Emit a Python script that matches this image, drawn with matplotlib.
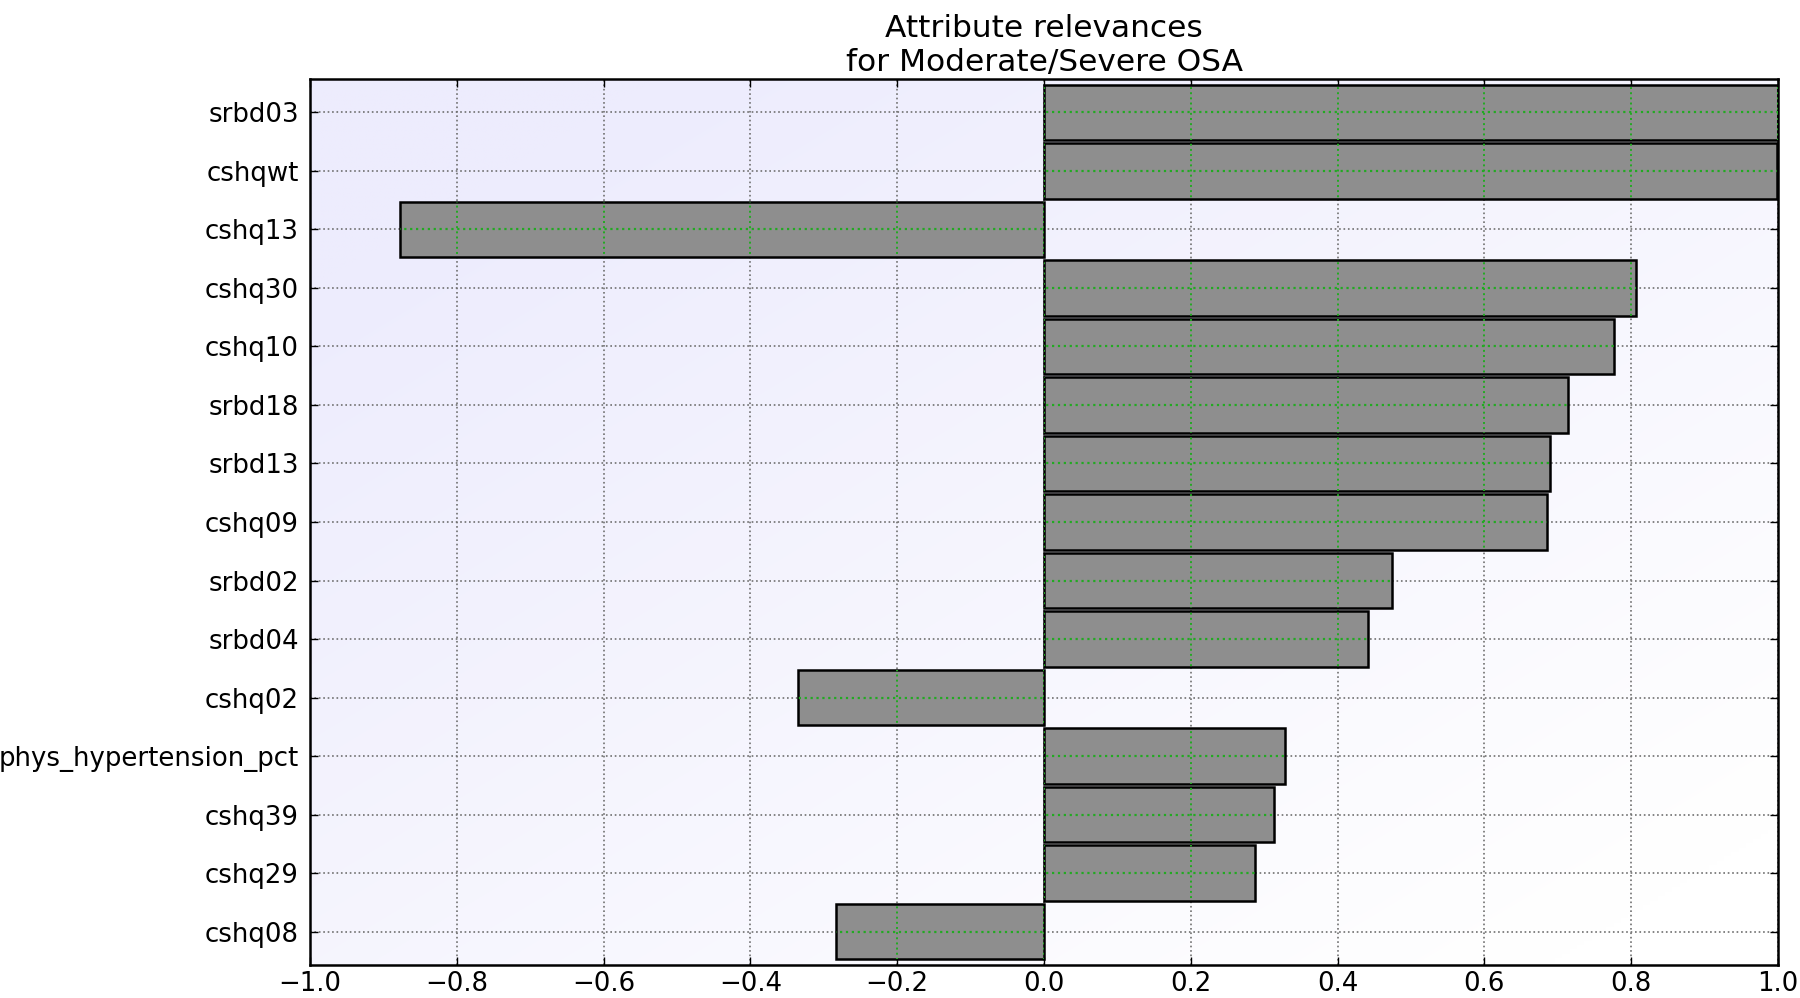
import numpy as np
import matplotlib
matplotlib.use("Agg")
import matplotlib.pyplot as plt
from matplotlib.path import Path

# attribute names, top to bottom
attributes = ['srbd03', 'cshqwt', 'cshq13', 'cshq30', 'cshq10', 'srbd18',
              'srbd13', 'cshq09', 'srbd02', 'srbd04', 'cshq02',
              'phys_hypertension_pct', 'cshq39', 'cshq29', 'cshq08']
# relevance values
relevances = [1.0, 0.998, -0.878, 0.806, 0.777, 0.714,
              0.690, 0.685, 0.474, 0.442, -0.335,
              0.328, 0.313, 0.287, -0.284]
x_ticks = [-1.0, -0.8, -0.6, -0.4, -0.2, 0.0, 0.2, 0.4, 0.6, 0.8, 1.0]

plt.rcParams['font.family'] = 'DejaVu Sans'

fig = plt.figure(figsize=(18, 9.98), dpi=100)
ax = fig.add_axes([310 / 1800, 1 - 965 / 998, 1468 / 1800, 886 / 998])

# lavender (top left) to white (bottom right) background
gx, gy = np.meshgrid(np.linspace(0, 1, 200), np.linspace(0, 1, 200))
t = np.clip((gx + gy) / 1.6 - 0.15, 0, 1)
top = np.array([237, 236, 253]) / 255.0
bot = np.array([255, 255, 255]) / 255.0
grad = top[None, None, :] * (1 - t[..., None]) + bot[None, None, :] * t[..., None]
ax.imshow(grad, extent=[0, 1, 0, 1], transform=ax.transAxes, aspect='auto',
          origin='upper', zorder=0, interpolation='bilinear')

y_pos = np.arange(len(attributes))
bars = ax.barh(y_pos, relevances, height=0.95, align='center',
               color='#8e8e8e', edgecolor='black', linewidth=1.8, zorder=2)

ax.set_xlim(-1, 1)
ax.set_ylim(len(attributes) - 0.43, -0.57)
ax.set_xticks(x_ticks)
ax.set_xticklabels(['\u2212%.1f' % -v if v < 0 else '%.1f' % v for v in x_ticks])
ax.set_yticks(y_pos)
ax.set_yticklabels(attributes)

ax.grid(True, color='#707070', linestyle=':', linewidth=1.2)
ax.set_axisbelow(True)

# green grid lines where they cross the bars
paths = [b.get_path().transformed(b.get_patch_transform()) for b in bars]
bar_clip = Path.make_compound_path(*paths)
for xv in ax.get_xticks():
    ln = ax.axvline(xv, color='#22aa22', linestyle=':', linewidth=1.4, zorder=3)
    ln.set_clip_path(bar_clip, ax.transData)
for yv in ax.get_yticks():
    ln = ax.axhline(yv, color='#22aa22', linestyle=':', linewidth=1.6, zorder=3)
    ln.set_clip_path(bar_clip, ax.transData)

ax.tick_params(direction='in', top=True, right=True, length=6, width=1,
               labelsize=18.7)
ax.tick_params(axis='y', pad=8)
ax.tick_params(axis='x', pad=4)
for s in ax.spines.values():
    s.set_linewidth(1.8)

ax.set_title('Attribute relevances\nfor Moderate/Severe OSA', fontsize=22.5,
             pad=6, linespacing=1.2)

fig.savefig('out.png', dpi=100, facecolor='white')
